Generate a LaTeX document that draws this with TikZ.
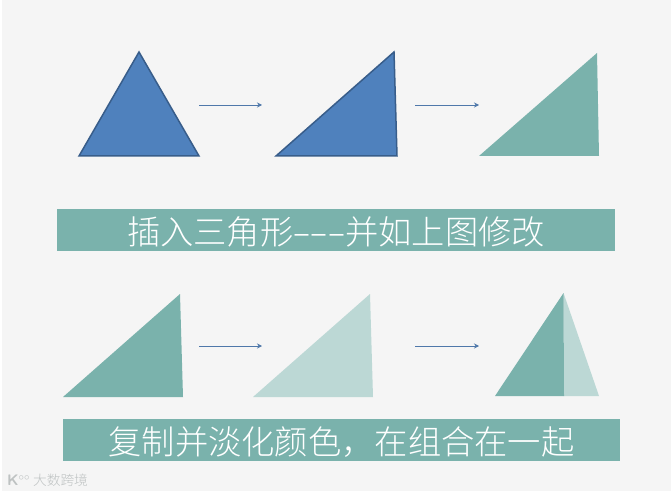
\documentclass[tikz,border=0pt]{standalone}
\usepackage{fontspec}
\usepackage{tikz}
\usetikzlibrary{arrows.meta}
\newfontfamily\cjk{Noto Sans CJK SC Light}
\newcommand{\halfdash}{\makebox[0.52em]{\scalebox{1.7}[1]{-}}}
\definecolor{cpage}{RGB}{245,245,245}
\definecolor{cblue}{RGB}{79,129,189}
\definecolor{cedge}{RGB}{56,93,138}
\definecolor{cteal}{RGB}{122,178,172}
\definecolor{cpale}{RGB}{188,216,213}
\definecolor{carrow}{RGB}{79,120,170}
\definecolor{cmark}{RGB}{190,194,194}
\tikzset{
  bluetri/.style={fill=cblue, draw=cedge, line width=0.45mm, line join=miter},
  stepline/.style={carrow, line width=0.25mm, -{Stealth[length=1.5mm,width=1.5mm]}},
  banner/.style={fill=cteal, text=white, font=\cjk\fontsize{28.4}{28.4}\selectfont, minimum height=12.6mm, inner sep=0pt, text height=28.4pt, text depth=3.4pt}
}

\begin{document}
\begin{tikzpicture}[x=0.3mm, y=-0.3mm]
  \useasboundingbox (0,0) rectangle (671,494);
  \fill[white] (0,0) rectangle (671,494);
  \fill[cpage] (2,0) rectangle (671,491);
  % --- top row
  \draw[bluetri] (139,52) -- (79,156) -- (199,156) -- cycle;
  \draw[bluetri] (276,156) -- (394,52) -- (397,156) -- cycle;
  \fill[cteal] (479,156) -- (597,53) -- (599,156) -- cycle;
  \coordinate (a1) at (199,105);
  \coordinate (a2) at (262,105);
  \coordinate (a3) at (415,105);
  \coordinate (a4) at (479,105);
  \draw[stepline] (a1) -- (a2);
  \draw[stepline] (a3) -- (a4);
  \node[banner, minimum width=167.4mm] (title1) at (336,230) {插入三角形\halfdash\halfdash\halfdash 并如上图修改};
  % --- bottom row
  \fill[cteal] (63,397) -- (180,294) -- (183,397) -- cycle;
  \fill[cpale] (253,397) -- (370,294) -- (373,397) -- cycle;
  \fill[cpale] (563.5,293) -- (599,396) -- (563.5,396) -- cycle;
  \fill[cteal] (495,396) -- (563.5,293) -- (564,396) -- cycle;
  \coordinate (b1) at (199,346);
  \coordinate (b2) at (262,346);
  \coordinate (b3) at (415,346);
  \coordinate (b4) at (479,346);
  \draw[stepline] (b1) -- (b2);
  \draw[stepline] (b3) -- (b4);
  \node[banner, minimum width=167.1mm] (title2) at (341.5,440) {复制并淡化颜色，在组合在一起};
  % --- watermark
  \node[cmark, font=\cjk\fontsize{11.7}{11.7}\selectfont, inner sep=0pt] (mark) at (60.5,480) {大数跨境};
  \node[cmark, font=\sffamily\bfseries\fontsize{13}{13}\selectfont, inner sep=0pt, anchor=east] (logo) at (mark.west) {K$^{\circ\circ}$\,};
\end{tikzpicture}
\end{document}
